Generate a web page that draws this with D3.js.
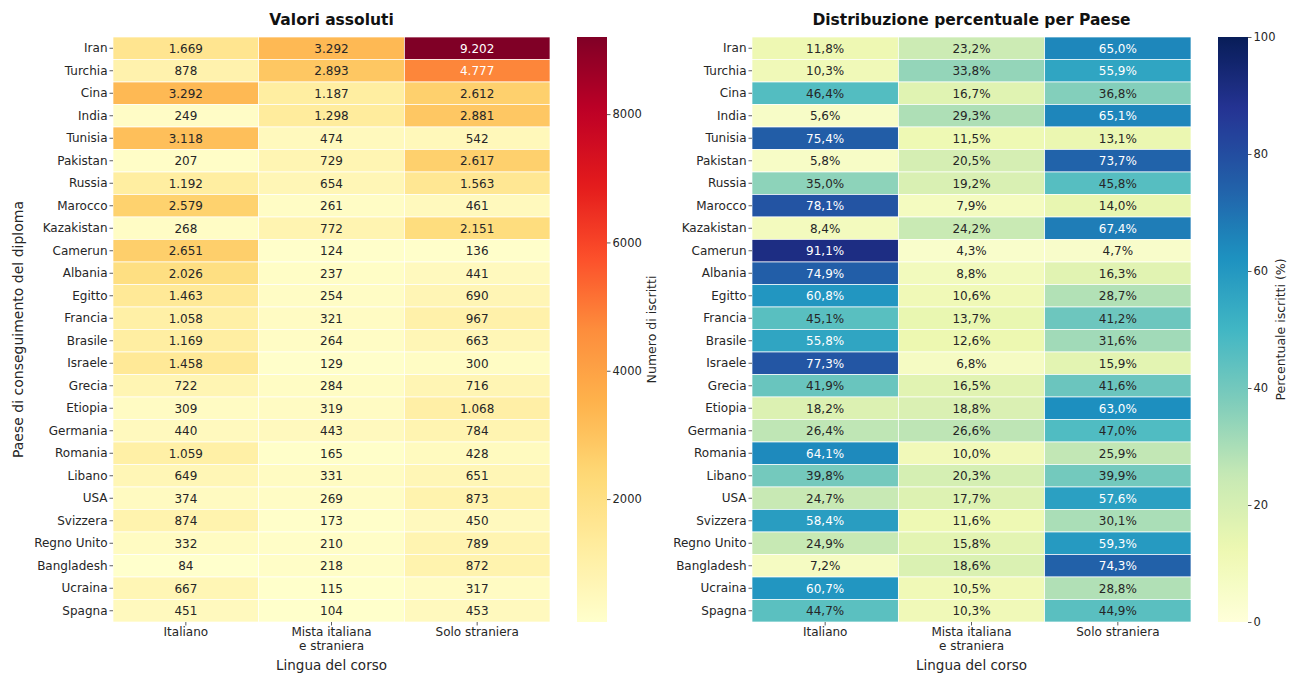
<!DOCTYPE html>
<html><head><meta charset="utf-8">
<script src="https://cdn.jsdelivr.net/npm/d3@7/dist/d3.min.js"></script>
<style>body{margin:0;background:#fff}svg text{font-family:"DejaVu Sans",sans-serif;}</style>
</head><body><svg id="c" width="1296" height="675"></svg>
<script>
const countries = ["Iran","Turchia","Cina","India","Tunisia","Pakistan","Russia","Marocco","Kazakistan","Camerun","Albania","Egitto","Francia","Brasile","Israele","Grecia","Etiopia","Germania","Romania","Libano","USA","Svizzera","Regno Unito","Bangladesh","Ucraina","Spagna"];
const languages = ["Italiano","Mista italiana\ne straniera","Solo straniera"];
const absItaliano = [1669,878,3292,249,3118,207,1192,2579,268,2651,2026,1463,1058,1169,1458,722,309,440,1059,649,374,874,332,84,667,451];
const absMista    = [3292,2893,1187,1298,474,729,654,261,772,124,237,254,321,264,129,284,319,443,165,331,269,173,210,218,115,104];
const absSolo     = [9202,4777,2612,2881,542,2617,1563,461,2151,136,441,690,967,663,300,716,1068,784,428,651,873,450,789,872,317,453];
const pctItaliano = [11.8,10.3,46.4,5.6,75.4,5.8,35.0,78.1,8.4,91.1,74.9,60.8,45.1,55.8,77.3,41.9,18.2,26.4,64.1,39.8,24.7,58.4,24.9,7.2,60.7,44.7];
const pctMista    = [23.2,33.8,16.7,29.3,11.5,20.5,19.2,7.9,24.2,4.3,8.8,10.6,13.7,12.6,6.8,16.5,18.8,26.6,10.0,20.3,17.7,11.6,15.8,18.6,10.5,10.3];
const pctSolo     = [65.0,55.9,36.8,65.1,13.1,73.7,45.8,14.0,67.4,4.7,16.3,28.7,41.2,31.6,15.9,41.6,63.0,47.0,25.9,39.9,57.6,30.1,59.3,74.3,28.8,44.9];
const absTicks = [2000,4000,6000,8000];
const pctTicks = [0,20,40,60,80,100];

const YlOrRd = ["#ffffcc","#ffeda0","#fed976","#feb24c","#fd8d3c","#fc4e2a","#e31a1c","#bd0026","#800026"];
const YlGnBu = ["#ffffd9","#edf8b1","#c7e9b4","#7fcdbb","#41b6c4","#1d91c0","#225ea8","#253494","#081d58"];

function makeCmap(colors, lo, hi){
  const dom = colors.map((c,i)=> lo + (hi-lo)*i/(colors.length-1));
  return d3.scaleLinear().domain(dom).range(colors).interpolate(d3.interpolateRgb).clamp(true);
}
function lum(c){
  const r = d3.rgb(c);
  const f = v=>{v/=255; return v<=0.03928? v/12.92 : Math.pow((v+0.055)/1.055,2.4);};
  return 0.2126*f(r.r)+0.7152*f(r.g)+0.0722*f(r.b);
}
const svg = d3.select("#c");
const plotTop = 37, plotBottom = 622;

function heatmap(opt){
  const g = svg.append("g");
  const x = d3.scaleBand().domain(languages).range([opt.x0, opt.x1]);
  const y = d3.scaleBand().domain(countries).range([plotTop, plotBottom]);
  const cols = opt.cols;
  const cells = [];
  countries.forEach((c,i)=> languages.forEach((l,j)=> cells.push({c,l,v:cols[j][i]})));
  g.selectAll("rect.cell").data(cells).enter().append("rect")
    .attr("x", d=>x(d.l)).attr("y", d=>y(d.c))
    .attr("width", x.bandwidth()).attr("height", y.bandwidth())
    .attr("fill", d=>opt.cmap(d.v)).attr("stroke","#fff").attr("stroke-width",0.7);
  g.selectAll("text.cell").data(cells).enter().append("text")
    .attr("x", d=>x(d.l)+x.bandwidth()/2).attr("y", d=>y(d.c)+y.bandwidth()/2)
    .attr("dy","0.36em").attr("text-anchor","middle").attr("font-size","12px")
    .attr("fill", d=> lum(opt.cmap(d.v))>0.408 ? "#262626" : "#ffffff")
    .text(d=>opt.fmt(d.v));
  const ya = g.append("g").attr("transform",`translate(${opt.x0},0)`).call(d3.axisLeft(y).tickSize(3.5).tickPadding(2));
  ya.select(".domain").remove();
  ya.selectAll("line").attr("stroke","#333").attr("stroke-width",0.8);
  ya.selectAll("text").attr("font-size","12px").attr("fill","#262626").attr("font-family","DejaVu Sans");
  const xa = g.append("g").attr("transform",`translate(0,${plotBottom})`).call(d3.axisBottom(x).tickSize(3.5).tickPadding(2));
  xa.select(".domain").remove();
  xa.selectAll("line").attr("stroke","#333").attr("stroke-width",0.8);
  xa.selectAll("text").attr("font-size","12px").attr("fill","#262626").attr("font-family","DejaVu Sans")
    .each(function(d){
      const t = d3.select(this); const lines = d.split("\n"); t.text(null);
      lines.forEach((ln,k)=> t.append("tspan").attr("x",0).attr("dy", k===0? "0.71em":"1.15em").text(ln));
    });
  const cx = (opt.x0+opt.x1)/2;
  g.append("text").attr("x",cx).attr("y",25).attr("text-anchor","middle")
    .attr("font-size","15.5px").attr("font-weight","bold").attr("fill","#111").text(opt.title);
  g.append("text").attr("x",cx).attr("y",670).attr("text-anchor","middle")
    .attr("font-size","13.5px").attr("fill","#262626").text("Lingua del corso");
  const cb0 = opt.cbx, cbw = 30;
  const cy = d3.scaleLinear().domain([opt.lo, opt.hi]).range([plotBottom, plotTop]);
  const gid = "grad"+opt.id;
  const grad = svg.append("defs").append("linearGradient").attr("id",gid)
    .attr("x1",0).attr("y1",1).attr("x2",0).attr("y2",0);
  d3.range(0,1.0001,0.02).forEach(t=> grad.append("stop").attr("offset",t).attr("stop-color", opt.cmap(opt.lo+(opt.hi-opt.lo)*t)));
  g.append("rect").attr("x",cb0).attr("y",plotTop).attr("width",cbw).attr("height",plotBottom-plotTop).attr("fill",`url(#${gid})`);
  const ca = g.append("g").attr("transform",`translate(${cb0+cbw},0)`).call(d3.axisRight(cy).tickValues(opt.ticks).tickSize(3.5).tickPadding(2).tickFormat(d3.format("d")));
  ca.select(".domain").remove();
  ca.selectAll("line").attr("stroke","#333").attr("stroke-width",0.8);
  ca.selectAll("text").attr("font-size","11.5px").attr("fill","#262626").attr("font-family","DejaVu Sans");
  g.append("text").attr("transform",`translate(${opt.cblx},${(plotTop+plotBottom)/2}) rotate(-90)`)
    .attr("text-anchor","middle").attr("font-size","12.5px").attr("fill","#262626").text(opt.cblabel);
}

const absAll = absItaliano.concat(absMista, absSolo);
const absLo = d3.min(absAll), absHi = d3.max(absAll);

heatmap({id:1, x0:113, x1:550, cols:[absItaliano,absMista,absSolo],
  cmap: makeCmap(YlOrRd, absLo, absHi), lo: absLo, hi: absHi,
  fmt: v=> d3.format(",")(v).replace(/,/g,"."),
  title:"Valori assoluti", cbx:577, ticks:absTicks, cblx:656, cblabel:"Numero di iscritti"});

heatmap({id:2, x0:752, x1:1191, cols:[pctItaliano,pctMista,pctSolo],
  cmap: makeCmap(YlGnBu, 0, 100), lo:0, hi:100,
  fmt: v=> v.toFixed(1).replace(".",",")+"%",
  title:"Distribuzione percentuale per Paese", cbx:1218, ticks:pctTicks, cblx:1285, cblabel:"Percentuale iscritti (%)"});

svg.append("text").attr("transform",`translate(23,${(plotTop+plotBottom)/2}) rotate(-90)`)
  .attr("text-anchor","middle").attr("font-size","14px").attr("fill","#262626")
  .text("Paese di conseguimento del diploma");
</script></body></html>
